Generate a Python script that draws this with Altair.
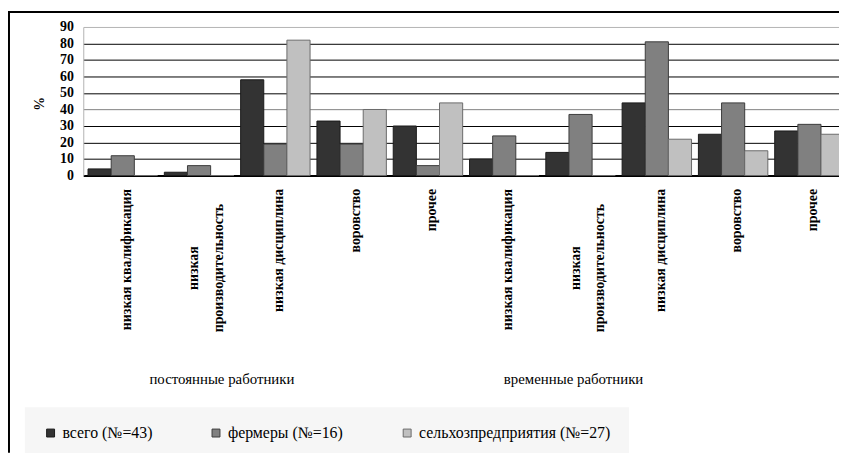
import json
import altair as alt
import pandas as pd

# ---------------- data ----------------
groups = ["постоянные работники", "временные работники"]
reasons = ["низкая квалификация", "низкая производительность", "низкая дисциплина", "воровство", "прочее"]
series = ["всего (№=43)", "фермеры (№=16)", "сельхозпредприятия (№=27)"]

vsego = [4, 2, 58, 33, 30, 10, 14, 44, 25, 27]
fermery = [12, 6, 19, 19, 6, 24, 37, 81, 44, 31]
selhoz = [0, 0, 82, 40, 44, 0, 0, 22, 15, 25]

y_ticks = [0, 10, 20, 30, 40, 50, 60, 70, 80, 90]

tick_labels = [
    "низкая квалификация",
    ["низкая", "производительность"],
    "низкая дисциплина",
    "воровство",
    "прочее",
] * 2

colors = ["#333333", "#808080", "#c0c0c0"]
strokes = ["#1a1a1a", "#3c3c3c", "#6a6a6a"]

# ---------------- table ----------------
rows = []
for i in range(len(vsego)):
    for s, vals in zip(series, [vsego, fermery, selhoz]):
        rows.append({"pos": i, "series": s, "value": vals[i]})
df = pd.DataFrame(rows)

label_expr = json.dumps(tick_labels, ensure_ascii=False) + "[datum.value]"
two_line = "datum.value === 1 || datum.value === 6"

FONT = "Liberation Serif, Times New Roman, DejaVu Serif, serif"
W, H = 763, 150

bars = alt.Chart(df).mark_bar(strokeWidth=1).encode(
    x=alt.X(
        "pos:O",
        scale=alt.Scale(range=[0, 773], paddingInner=0.09, paddingOuter=0.0625),
        axis=alt.Axis(
            title=None,
            labelExpr=label_expr,
            labelAngle=270,
            labelAlign={"condition": {"test": two_line, "value": "center"}, "value": "right"},
            labelBaseline="middle",
            labelPadding={"condition": {"test": two_line, "value": 93}, "value": 13},
            labelOffset={"condition": {"test": two_line, "value": -5}, "value": 4},
            labelFont=FONT,
            labelFontSize=14,
            labelFontWeight="bold",
            labelColor="black",
            labelLineHeight=25,
            labelLimit=0,
            labelOverlap=False,
            ticks=False,
            domain=True,
            domainColor="black",
            domainWidth=2,
            grid=False,
        ),
    ),
    xOffset=alt.XOffset("series:N", sort=series),
    y=alt.Y(
        "value:Q",
        scale=alt.Scale(domain=[0, 90], nice=False),
        axis=alt.Axis(
            values=y_ticks,
            title="%",
            titleFont=FONT,
            titleFontSize=14,
            titleFontWeight="bold",
            titleColor="black",
            titleX=-44,
            titleY=77,
            titleAlign="center",
            titleBaseline="middle",
            labelFont=FONT,
            labelFontSize=14,
            labelFontWeight="bold",
            labelColor="black",
            labelPadding=10,
            ticks=False,
            domain=True,
            domainColor="#b3b3b3",
            domainWidth=1,
            grid=True,
            gridColor={
                "condition": [
                    {"test": "datum.value === 90", "value": "#b3b3b3"},
                    {"test": "datum.value === 40", "value": "#808080"},
                ],
                "value": "#000000",
            },
            gridWidth=1,
            gridOpacity=1,
        ),
    ),
    color=alt.Color(
        "series:N",
        sort=series,
        scale=alt.Scale(domain=series, range=colors),
        legend=alt.Legend(
            title=None,
            orient="none",
            legendX=-59,
            legendY=384,
            direction="horizontal",
            columnPadding=56,
            symbolType="square",
            symbolSize=64,
            symbolStrokeColor="#222222",
            symbolStrokeWidth=1,
            symbolOpacity=1,
            labelFont=FONT,
            labelFontSize=16,
            labelColor="black",
            labelOffset=4,
            labelLimit=400,
            fillColor="#f6f6f6",
            padding=18,
        ),
    ),
    stroke=alt.Stroke("series:N", sort=series, scale=alt.Scale(domain=series, range=strokes), legend=None),
)

one = pd.DataFrame({"k": [0]})

group1 = alt.Chart(pd.DataFrame({"group": [groups[0]]})).mark_text(
    font=FONT, fontSize=15, color="black", align="center", baseline="alphabetic"
).encode(text="group:N", x=alt.value(140), y=alt.value(360))

group2 = alt.Chart(pd.DataFrame({"group": [groups[1]]})).mark_text(
    font=FONT, fontSize=15, color="black", align="center", baseline="alphabetic"
).encode(text="group:N", x=alt.value(495), y=alt.value(360))

frame_top = alt.Chart(one).mark_rule(color="black", strokeWidth=2).encode(
    x=alt.value(-76), x2=alt.value(W + 5), y=alt.value(-15)
)
frame_left = alt.Chart(one).mark_rule(color="black", strokeWidth=2).encode(
    x=alt.value(-75), y=alt.value(-16), y2=alt.value(H + 280)
)

chart = alt.layer(bars, group1, group2, frame_top, frame_left).properties(
    width=W,
    height=H,
    autosize=alt.AutoSizeParams(type="none"),
    padding={"left": 76, "top": 17, "right": 0, "bottom": 278},
    background="white",
).configure_view(stroke=None)

chart.save("out.html", embed_options={"renderer": "svg", "actions": False})
